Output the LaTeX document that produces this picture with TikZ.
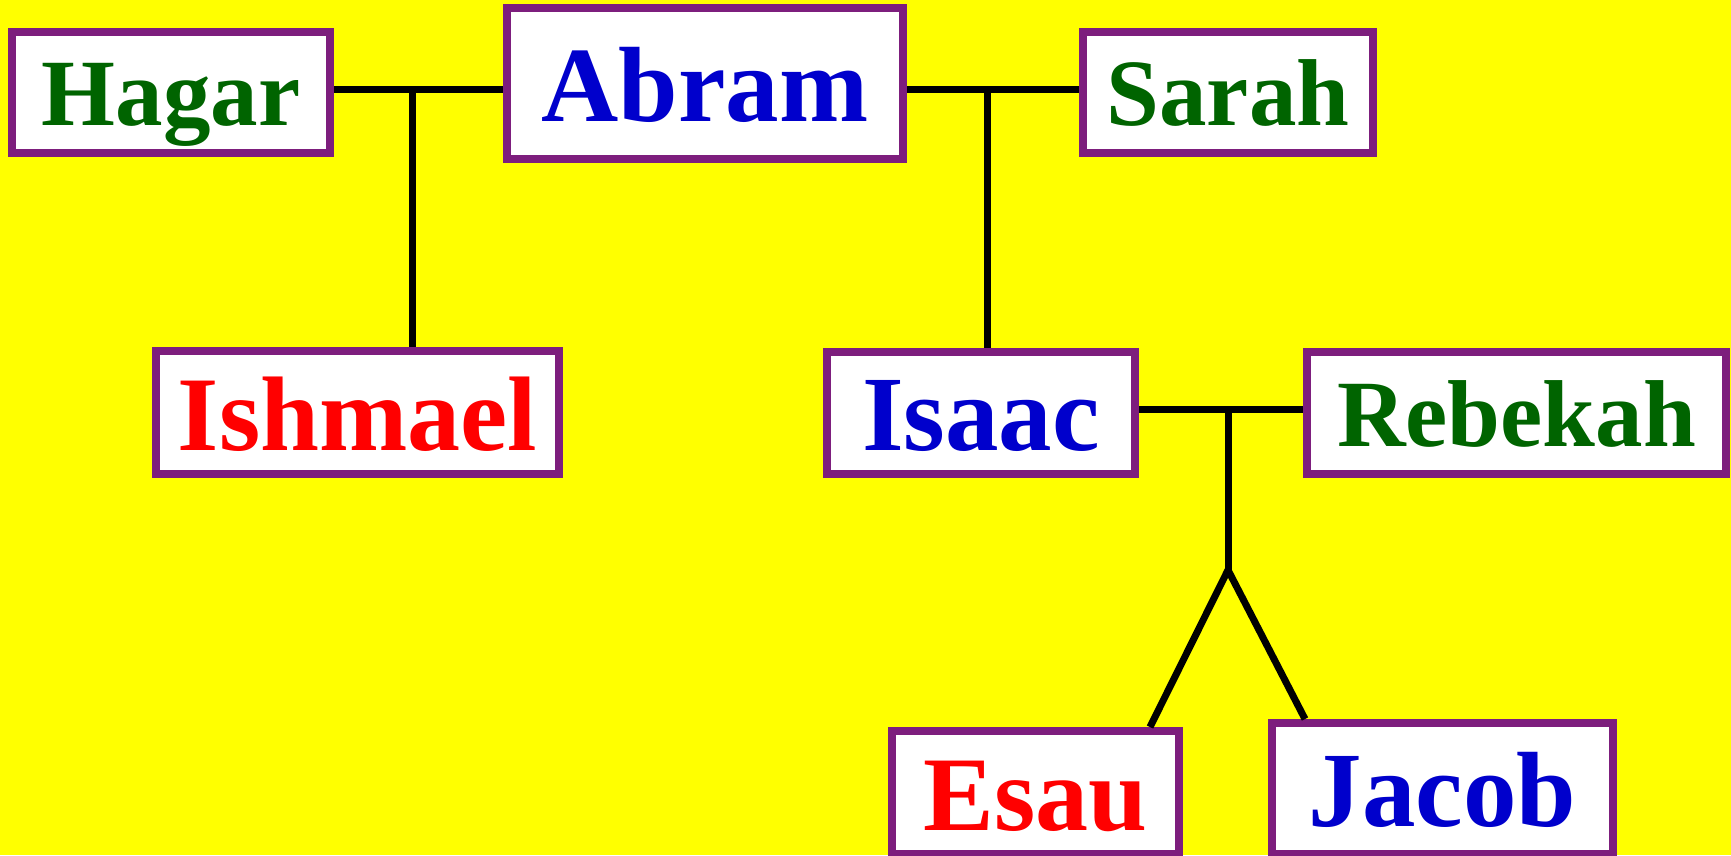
\documentclass[tikz,border=0pt]{standalone}
\usepackage{fontspec}
\setmainfont{Liberation Serif}
\definecolor{boxpurple}{RGB}{125,30,125}
\definecolor{wifegreen}{RGB}{0,100,0}
\definecolor{heirblue}{RGB}{0,0,204}
\definecolor{elderred}{RGB}{255,0,0}
\definecolor{backyellow}{RGB}{255,255,0}
\begin{document}
\begin{tikzpicture}[x=1pt,y=-1pt,
    person/.style={draw=boxpurple, line width=8pt, fill=white, inner sep=0pt, text depth=0pt},
    wife/.style={person, text=wifegreen, text height=66pt, font=\fontsize{95}{95}\selectfont\bfseries},
    heir/.style={person, text=heirblue, text height=75pt, font=\fontsize{107}{107}\selectfont\bfseries},
    elder/.style={person, text=elderred, text height=75pt, font=\fontsize{106}{106}\selectfont\bfseries},
    link/.style={line width=7pt, line join=round}]
    % Background
    \fill[backyellow] (0,0) rectangle (1731,855);
    \useasboundingbox (0,0) rectangle (1731,855);

    % First generation
    \node[wife, minimum width=318pt, minimum height=121pt] (hagar) at (171,92.5) {Hagar};
    \node[heir, minimum width=396pt, minimum height=151pt] (abram) at (705,83.5) {Abram};
    \node[wife, minimum width=290pt, minimum height=121pt] (sarah) at (1228,92.5) {Sarah};

    % Second generation
    \node[elder, minimum width=403pt, minimum height=123pt] (ishmael) at (357.5,412.5) {Ishmael};
    \node[heir, minimum width=308pt, minimum height=122pt] (isaac) at (981,413) {Isaac};
    \node[wife, minimum width=419pt, minimum height=122pt] (rebekah) at (1516.5,413) {Rebekah};

    % Third generation
    \node[elder, minimum width=287pt, minimum height=123pt] (esau) at (1035.5,792.5) {Esau};
    \node[heir, minimum width=341pt, minimum height=131pt] (jacob) at (1442.5,788.5) {Jacob};

    % Marriage lines and descent
    \coordinate (hagarabram) at (412,89);
    \coordinate (abramsarah) at (987,89);
    \coordinate (isaacrebekah) at (1228,409);
    \coordinate (fork) at (1228,570);

    \draw[link] (hagar.east |- hagarabram) -- (abram.west |- hagarabram);
    \draw[link] (hagarabram) -- (ishmael.north -| hagarabram);
    \draw[link] (abram.east |- abramsarah) -- (sarah.west |- abramsarah);
    \draw[link] (abramsarah) -- (isaac.north -| abramsarah);
    \draw[link] (isaac.east |- isaacrebekah) -- (rebekah.west |- isaacrebekah);
    \draw[link] (isaacrebekah) -- (fork);
    \draw[link] ([xshift=-33pt]esau.north east) -- (fork) -- ([xshift=37pt]jacob.north west);
\end{tikzpicture}
\end{document}
